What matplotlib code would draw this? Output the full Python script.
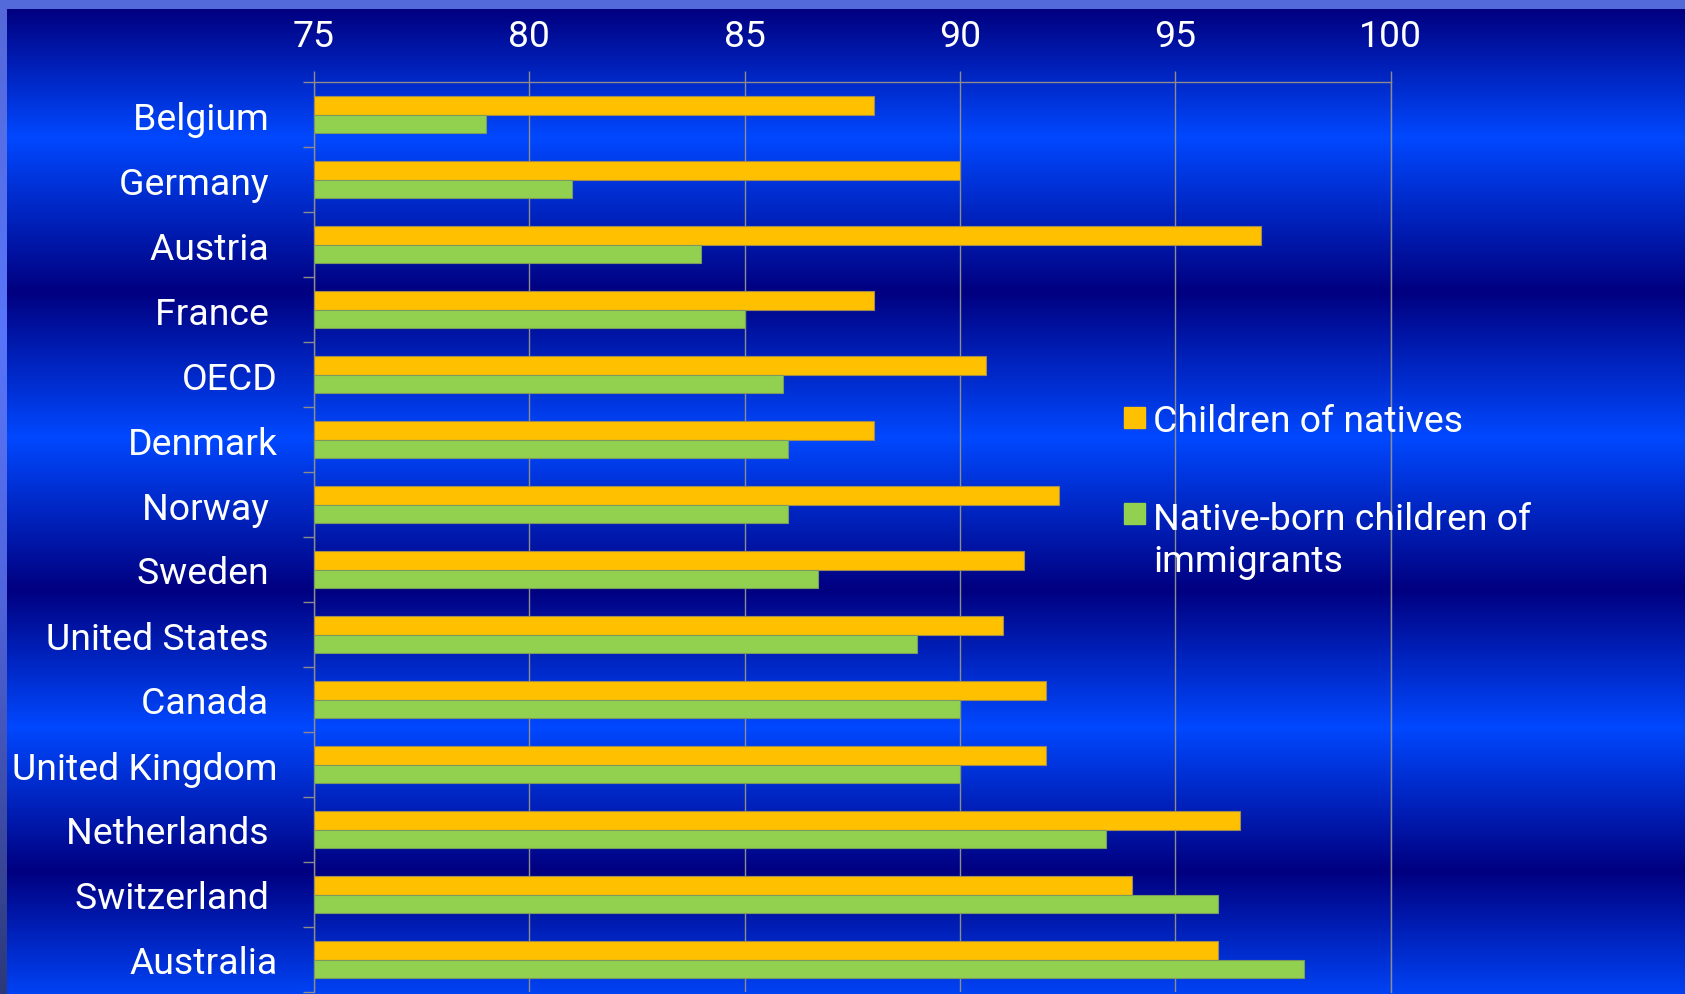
import numpy as np
import matplotlib
matplotlib.use("Agg")
import matplotlib.pyplot as plt
from matplotlib.patches import Rectangle

matplotlib.rc('font', family=['Roboto', 'DejaVu Sans'], size=26.9)

categories = ['Belgium', 'Germany', 'Austria', 'France', 'OECD', 'Denmark',
              'Norway', 'Sweden', 'United States', 'Canada', 'United Kingdom',
              'Netherlands', 'Switzerland', 'Australia']
# some labels carry a trailing blank, as in the source sheet
tick_labels = ['Belgium ', 'Germany ', 'Austria ', 'France ', 'OECD', 'Denmark',
               'Norway ', 'Sweden ', 'United States ', 'Canada ', 'United Kingdom',
               'Netherlands ', 'Switzerland ', 'Australia']
natives = [88, 90, 97, 88, 90.6, 88, 92.3, 91.5, 91, 92, 92, 96.5, 94, 96]
immigrants = [79, 81, 84, 85, 85.9, 86, 86, 86.7, 89, 90, 90, 93.4, 96, 98]
series_names = ['Children of natives', 'Native-born children of\nimmigrants']
x_ticks = [75, 80, 85, 90, 95, 100]

W, H = 1685, 995
c_nat = '#FFC000'
c_imm = '#92D050'
grey = '#8c8c8c'

fig = plt.figure(figsize=(W / 100, H / 100), dpi=100)

# slide background: horizontal navy / bright blue bands
bg = fig.add_axes([0, 0, 1, 1], zorder=-10)
bg.axis('off')
dark = np.array([0, 0, 128]) / 255
bright = np.array([0, 72, 255]) / 255
stops = [10, 138, 292, 438, 590, 728, 872, 1005]
rows = np.arange(H)
mix = np.interp(rows, stops, [0, 1, 0, 1, 0, 1, 0, 1])
band = dark[None, :] * (1 - mix[:, None]) + bright[None, :] * mix[:, None]
bg.imshow(band[:, None, :], extent=[0, W, H, 0], aspect='auto', interpolation='bilinear')

# lighter frame strips at the left and top
edge_y = [0, 330, 600, 995]
edge_c = np.array([[84, 104, 216], [88, 118, 250], [80, 100, 220], [44, 56, 120]]) / 255
edge = np.stack([np.interp(rows, edge_y, edge_c[:, k]) for k in range(3)], axis=1)
bg.imshow(edge[:, None, :], extent=[0, 7, H, 0], aspect='auto', interpolation='bilinear')
bg.add_patch(Rectangle((0, 0), W, 10, color=(82 / 255, 106 / 255, 218 / 255), lw=0))
bg.set_xlim(0, W)
bg.set_ylim(H, 0)

# chart area
left, right, top, bottom = 313.8, 1390.6, 83, 993
ax = fig.add_axes([left / W, 1 - bottom / H, (right - left) / W, (bottom - top) / H])
ax.set_facecolor('none')

y = np.arange(len(categories))
h = 0.285
ax.barh(y - h / 2, [v - 75 for v in natives], left=75, height=h, color=c_nat,
        edgecolor='#a08c50', linewidth=0.8, zorder=3)
ax.barh(y + h / 2, [v - 75 for v in immigrants], left=75, height=h, color=c_imm,
        edgecolor='#7a9a60', linewidth=0.8, zorder=3)

ax.set_xlim(75, 100)
ax.set_ylim(len(categories) - 0.5, -0.5)
ax.xaxis.tick_top()
ax.set_xticks(x_ticks)
ax.tick_params(axis='x', colors=grey, labelcolor='white', direction='out',
               length=8, width=1, pad=12)
ax.grid(axis='x', color=grey, linewidth=1)
ax.set_axisbelow(True)

ax.set_yticks(y)
ax.set_yticklabels(tick_labels)
ax.set_yticks(np.arange(len(categories) + 1) - 0.5, minor=True)
ax.tick_params(axis='y', which='major', length=0, labelcolor='white', pad=26)
ax.tick_params(axis='y', which='minor', length=8, width=1, color=grey, direction='out')

ax.spines['bottom'].set_visible(False)
for s in ['top', 'left', 'right']:
    ax.spines[s].set_color(grey)
    ax.spines[s].set_linewidth(1)

# legend at the right of the plot
def px(xp, yp):
    return xp / W, 1 - yp / H

for (col, name, sq_top, txt_y) in [(c_nat, series_names[0], 408, 418.5),
                                   (c_imm, series_names[1], 504, 534)]:
    fig.patches.append(Rectangle(px(1124, sq_top + 21), 21 / W, 21 / H, color=col,
                                 transform=fig.transFigure, figure=fig))
    x0, y0 = px(1153, txt_y)
    fig.text(x0, y0, name, color='white', ha='left', va='center_baseline',
             linespacing=1.2)

fig.savefig('out.png', dpi=100)
